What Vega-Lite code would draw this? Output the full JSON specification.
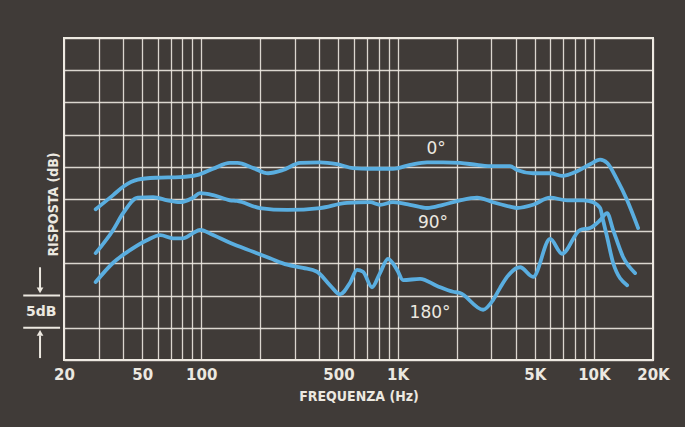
{
  "$schema": "https://vega.github.io/schema/vega-lite/v6.json",
  "width": 589,
  "height": 322,
  "autosize": {"type": "none"},
  "padding": {"left": 64, "top": 38, "right": 32, "bottom": 67},
  "background": "#403b38",
  "config": {
    "view": {"stroke": "#efebe3", "strokeWidth": 2},
    "font": "DejaVu Sans"
  },
  "datasets": {
    "curves": [
      {"s": "0", "f": 29, "db": 23.4},
      {"s": "0", "f": 35.6, "db": 25.6},
      {"s": "0", "f": 40, "db": 26.9},
      {"s": "0", "f": 47.5, "db": 28.0},
      {"s": "0", "f": 59, "db": 28.3},
      {"s": "0", "f": 78, "db": 28.4},
      {"s": "0", "f": 95, "db": 28.7},
      {"s": "0", "f": 115, "db": 29.7},
      {"s": "0", "f": 140, "db": 30.6},
      {"s": "0", "f": 153, "db": 30.6},
      {"s": "0", "f": 184, "db": 29.8},
      {"s": "0", "f": 219, "db": 29.0},
      {"s": "0", "f": 261, "db": 29.5},
      {"s": "0", "f": 319, "db": 30.6},
      {"s": "0", "f": 403, "db": 30.7},
      {"s": "0", "f": 492, "db": 30.4},
      {"s": "0", "f": 593, "db": 29.8},
      {"s": "0", "f": 724, "db": 29.7},
      {"s": "0", "f": 948, "db": 29.7},
      {"s": "0", "f": 1158, "db": 30.3},
      {"s": "0", "f": 1413, "db": 30.7},
      {"s": "0", "f": 1705, "db": 30.7},
      {"s": "0", "f": 2082, "db": 30.6},
      {"s": "0", "f": 2540, "db": 30.3},
      {"s": "0", "f": 3064, "db": 30.1},
      {"s": "0", "f": 3742, "db": 30.1},
      {"s": "0", "f": 4062, "db": 29.5},
      {"s": "0", "f": 4900, "db": 29.0},
      {"s": "0", "f": 5982, "db": 29.0},
      {"s": "0", "f": 6886, "db": 28.6},
      {"s": "0", "f": 8212, "db": 29.3},
      {"s": "0", "f": 9564, "db": 30.4},
      {"s": "0", "f": 10754, "db": 31.1},
      {"s": "0", "f": 11674, "db": 30.6},
      {"s": "0", "f": 13126, "db": 28.0},
      {"s": "0", "f": 14764, "db": 24.8},
      {"s": "0", "f": 16794, "db": 20.5},
      {"s": "90", "f": 29, "db": 16.6},
      {"s": "90", "f": 35.6, "db": 20.2},
      {"s": "90", "f": 40, "db": 22.8},
      {"s": "90", "f": 47.5, "db": 25.2},
      {"s": "90", "f": 56.9, "db": 25.3},
      {"s": "90", "f": 67.2, "db": 24.8},
      {"s": "90", "f": 77.8, "db": 24.5},
      {"s": "90", "f": 90.8, "db": 25.2},
      {"s": "90", "f": 98.6, "db": 25.9},
      {"s": "90", "f": 115, "db": 25.6},
      {"s": "90", "f": 140, "db": 24.8},
      {"s": "90", "f": 152, "db": 24.7},
      {"s": "90", "f": 199, "db": 23.6},
      {"s": "90", "f": 274, "db": 23.3},
      {"s": "90", "f": 403, "db": 23.6},
      {"s": "90", "f": 553, "db": 24.4},
      {"s": "90", "f": 724, "db": 24.5},
      {"s": "90", "f": 814, "db": 24.1},
      {"s": "90", "f": 948, "db": 24.5},
      {"s": "90", "f": 1158, "db": 24.1},
      {"s": "90", "f": 1413, "db": 23.6},
      {"s": "90", "f": 1705, "db": 24.1},
      {"s": "90", "f": 2082, "db": 24.8},
      {"s": "90", "f": 2540, "db": 25.2},
      {"s": "90", "f": 3064, "db": 24.5},
      {"s": "90", "f": 3742, "db": 23.8},
      {"s": "90", "f": 4062, "db": 23.6},
      {"s": "90", "f": 4900, "db": 24.1},
      {"s": "90", "f": 5982, "db": 25.2},
      {"s": "90", "f": 7302, "db": 24.8},
      {"s": "90", "f": 8810, "db": 24.8},
      {"s": "90", "f": 9906, "db": 24.5},
      {"s": "90", "f": 10754, "db": 23.6},
      {"s": "90", "f": 11138, "db": 21.7},
      {"s": "90", "f": 11674, "db": 19.1},
      {"s": "90", "f": 12524, "db": 15.1},
      {"s": "90", "f": 14764, "db": 11.6},
      {"s": "180", "f": 29, "db": 12.1},
      {"s": "180", "f": 35.6, "db": 15.1},
      {"s": "180", "f": 43.6, "db": 17.1},
      {"s": "180", "f": 52.8, "db": 18.6},
      {"s": "180", "f": 61.9, "db": 19.4},
      {"s": "180", "f": 71.9, "db": 18.9},
      {"s": "180", "f": 80.4, "db": 18.9},
      {"s": "180", "f": 90.8, "db": 19.7},
      {"s": "180", "f": 98.6, "db": 20.2},
      {"s": "180", "f": 115, "db": 19.4},
      {"s": "180", "f": 140, "db": 18.2},
      {"s": "180", "f": 184, "db": 16.8},
      {"s": "180", "f": 224, "db": 15.8},
      {"s": "180", "f": 274, "db": 14.8},
      {"s": "180", "f": 330, "db": 14.3},
      {"s": "180", "f": 389, "db": 13.7},
      {"s": "180", "f": 453, "db": 11.6},
      {"s": "180", "f": 509, "db": 10.2},
      {"s": "180", "f": 573, "db": 12.0},
      {"s": "180", "f": 622, "db": 14.0},
      {"s": "180", "f": 667, "db": 13.7},
      {"s": "180", "f": 741, "db": 11.3},
      {"s": "180", "f": 814, "db": 13.5},
      {"s": "180", "f": 894, "db": 15.7},
      {"s": "180", "f": 994, "db": 14.0},
      {"s": "180", "f": 1067, "db": 12.4},
      {"s": "180", "f": 1302, "db": 12.6},
      {"s": "180", "f": 1589, "db": 11.5},
      {"s": "180", "f": 1917, "db": 10.6},
      {"s": "180", "f": 2082, "db": 10.4},
      {"s": "180", "f": 2726, "db": 7.8},
      {"s": "180", "f": 3064, "db": 9.3},
      {"s": "180", "f": 3328, "db": 11.2},
      {"s": "180", "f": 3612, "db": 12.9},
      {"s": "180", "f": 4208, "db": 14.4},
      {"s": "180", "f": 4900, "db": 12.9},
      {"s": "180", "f": 5982, "db": 18.8},
      {"s": "180", "f": 6886, "db": 16.5},
      {"s": "180", "f": 8506, "db": 20.2},
      {"s": "180", "f": 9564, "db": 20.5},
      {"s": "180", "f": 10754, "db": 21.7},
      {"s": "180", "f": 11674, "db": 22.8},
      {"s": "180", "f": 12524, "db": 20.2},
      {"s": "180", "f": 14084, "db": 16.0},
      {"s": "180", "f": 16212, "db": 13.5}
    ],
    "labels": [
      {"label": "0°", "f": 1571, "db": 32.8},
      {"label": "90°", "f": 1516, "db": 21.3},
      {"label": "180°", "f": 1464, "db": 7.3}
    ],
    "scaleLines": [
      {"f": 12.4, "f2": 19.1, "db": 10},
      {"f": 12.4, "f2": 19.1, "db": 5}
    ],
    "arrowShafts": [
      {"f": 15.1, "db": 14.4, "db2": 11.0},
      {"f": 15.1, "db": 3.8, "db2": 0.3}
    ],
    "arrowHeads": [
      {"f": 15.1, "db": 10.8, "shape": "triangle-down"},
      {"f": 15.1, "db": 4.2, "shape": "triangle-up"}
    ],
    "scaleText": [
      {"label": "5dB", "f": 15.3, "db": 7.5}
    ]
  },
  "encoding": {
    "x": {
      "field": "f",
      "type": "quantitative",
      "scale": {"type": "log", "domain": [20, 20000], "nice": false},
      "axis": {
        "title": "FREQUENZA (Hz)",
        "values": [20, 30, 40, 50, 60, 70, 80, 90, 100, 200, 300, 400, 500, 600, 700, 800, 900, 1000, 2000, 3000, 4000, 5000, 6000, 7000, 8000, 9000, 10000, 20000],
        "labelExpr": "indexof([20, 50, 100, 500, 1000, 5000, 10000, 20000], datum.value) >= 0 ? (datum.value >= 1000 ? (datum.value / 1000) + 'K' : datum.value + '') : ''",
        "labelOverlap": false,
        "labelFlush": false,
        "grid": true,
        "gridColor": "#ece8e0",
        "gridWidth": 1.3,
        "gridOpacity": 0.9,
        "ticks": false,
        "domain": false,
        "labelColor": "#ece8e0",
        "labelFont": "DejaVu Sans",
        "labelFontWeight": "bold",
        "labelFontSize": 15,
        "labelPadding": 7,
        "titleColor": "#ece8e0",
        "titleFont": "DejaVu Sans Condensed",
        "titleFontWeight": "bold",
        "titleFontSize": 14,
        "titlePadding": 7
      }
    },
    "y": {
      "field": "db",
      "type": "quantitative",
      "scale": {"domain": [0, 50], "nice": false},
      "axis": {
        "title": "RISPOSTA (dB)",
        "values": [0, 5, 10, 15, 20, 25, 30, 35, 40, 45, 50],
        "labels": false,
        "ticks": false,
        "domain": false,
        "grid": true,
        "gridColor": "#ece8e0",
        "gridWidth": 1.3,
        "gridOpacity": 0.9,
        "titleColor": "#ece8e0",
        "titleFont": "DejaVu Sans Condensed",
        "titleFontWeight": "bold",
        "titleFontSize": 14,
        "titlePadding": 4,
        "titleY": 166
      }
    }
  },
  "layer": [
    {
      "data": {"name": "curves"},
      "mark": {"type": "line", "color": "#5aaee0", "strokeWidth": 3.8, "interpolate": "monotone", "strokeCap": "round", "strokeJoin": "round"},
      "encoding": {"detail": {"field": "s", "type": "nominal"}}
    },
    {
      "data": {"name": "labels"},
      "mark": {"type": "text", "color": "#ece8e0", "fontSize": 17, "font": "DejaVu Sans", "align": "center", "baseline": "middle"},
      "encoding": {"text": {"field": "label", "type": "nominal"}}
    },
    {
      "data": {"name": "scaleLines"},
      "mark": {"type": "rule", "color": "#ece8e0", "strokeWidth": 2},
      "encoding": {"x2": {"field": "f2"}}
    },
    {
      "data": {"name": "arrowShafts"},
      "mark": {"type": "rule", "color": "#ece8e0", "strokeWidth": 2},
      "encoding": {"y2": {"field": "db2"}}
    },
    {
      "data": {"name": "arrowHeads"},
      "mark": {"type": "point", "filled": true, "color": "#ece8e0", "size": 45, "opacity": 1},
      "encoding": {"shape": {"field": "shape", "type": "nominal", "scale": null}}
    },
    {
      "data": {"name": "scaleText"},
      "mark": {"type": "text", "color": "#ece8e0", "fontSize": 14, "fontWeight": "bold", "font": "DejaVu Sans", "align": "center", "baseline": "middle"},
      "encoding": {"text": {"field": "label", "type": "nominal"}}
    }
  ]
}
